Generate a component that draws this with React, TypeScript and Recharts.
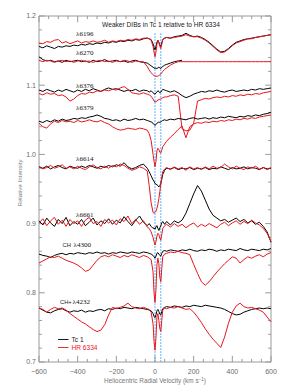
import React from 'react';
import { LineChart, Line, XAxis, YAxis, ReferenceLine, ReferenceArea } from 'recharts';

// velocity grid (km/s), finer around the interstellar components
const velocity = [
  -600, -580, -560, -540, -520, -500, -480, -460, -440, -420,
  -400, -380, -360, -340, -320, -300, -280, -260, -240, -220,
  -200, -180, -160, -140, -120, -100, -80, -60, -40,
  -30, -20, -10, -5, 0, 5, 10, 15, 20, 25, 30, 35, 40, 50,
  60, 80, 100, 120, 140, 160, 180, 200, 220, 240,
  260, 280, 300, 320, 340, 360, 380, 400, 420, 440,
  460, 480, 500, 520, 540, 560, 580, 600,
];

const tc6196 = [
  1.156, 1.154, 1.157, 1.155, 1.153, 1.156, 1.155, 1.157, 1.156, 1.158,
  1.157, 1.159, 1.158, 1.160, 1.159, 1.161, 1.160, 1.162, 1.161, 1.163,
  1.162, 1.164, 1.163, 1.165, 1.164, 1.166, 1.165, 1.167, 1.168,
  1.167, 1.166, 1.160, 1.155, 1.151, 1.156, 1.162, 1.165, 1.162, 1.158, 1.156, 1.161, 1.166, 1.168,
  1.169, 1.168, 1.170, 1.171, 1.172, 1.175, 1.172, 1.170, 1.171, 1.169,
  1.166, 1.162, 1.157, 1.152, 1.148, 1.149, 1.153, 1.158, 1.162, 1.164,
  1.166, 1.167, 1.168, 1.169, 1.170, 1.171, 1.172, 1.173,
];
const hr6196 = [
  1.161, 1.160, 1.163, 1.162, 1.165, 1.166, 1.161, 1.163, 1.160, 1.162,
  1.164, 1.161, 1.163, 1.162, 1.164, 1.162, 1.163, 1.165, 1.162, 1.164,
  1.163, 1.165, 1.164, 1.166, 1.165, 1.167, 1.166, 1.168, 1.168,
  1.167, 1.165, 1.156, 1.148, 1.141, 1.148, 1.159, 1.165, 1.162, 1.156, 1.153, 1.159, 1.166, 1.168,
  1.169, 1.168, 1.169, 1.170, 1.171, 1.173, 1.171, 1.170, 1.170, 1.168,
  1.165, 1.161, 1.156, 1.151, 1.147, 1.148, 1.152, 1.157, 1.161, 1.163,
  1.165, 1.167, 1.167, 1.169, 1.170, 1.171, 1.172, 1.173,
];

const tc6270 = [
  1.141, 1.137, 1.135, 1.136, 1.134, 1.135, 1.133, 1.136, 1.134, 1.135,
  1.136, 1.134, 1.135, 1.133, 1.136, 1.134, 1.135, 1.137, 1.134, 1.135,
  1.136, 1.134, 1.135, 1.133, 1.135, 1.136, 1.134, 1.133, 1.132,
  1.130, 1.128, 1.126, 1.125, 1.124, 1.125, 1.124, 1.125, 1.126, 1.125, 1.124, 1.126, 1.127, 1.129,
  1.130, 1.132, 1.134, 1.135, 1.136, null, null, null, null, null,
  null, null, null, null, null, null, null, null, null, null,
  null, null, null, null, null, null, null, null,
];
const hr6270 = [
  1.136, 1.134, 1.136, 1.135, 1.133, 1.135, 1.136, 1.134, 1.135, 1.133,
  1.135, 1.136, 1.134, 1.135, 1.133, 1.135, 1.136, 1.134, 1.135, 1.133,
  1.135, 1.134, 1.136, 1.135, 1.133, 1.135, 1.134, 1.134, 1.127,
  1.122, 1.118, 1.115, 1.114, 1.113, 1.113, 1.113, 1.113, 1.114, 1.115, 1.116, 1.118, 1.120, 1.123,
  1.125, 1.129, 1.132, 1.134, 1.134, 1.134, 1.134, 1.134, 1.134, 1.134,
  1.134, 1.134, 1.134, 1.134, 1.134, 1.134, 1.134, 1.134, 1.134, 1.134,
  1.134, 1.134, 1.134, 1.134, 1.134, 1.134, 1.134, 1.134,
];

const tc6376 = [
  1.093, 1.091, 1.094, 1.092, 1.090, 1.093, 1.091, 1.094, 1.092, 1.090,
  1.093, 1.091, 1.094, 1.092, 1.095, 1.093, 1.091, 1.094, 1.096, 1.094,
  1.095, 1.093, 1.091, 1.093, 1.092, 1.094, 1.091, 1.093, 1.092,
  1.090, 1.092, 1.089, 1.088, 1.087, 1.089, 1.090, 1.092, 1.091, 1.089, 1.090, 1.092, 1.094, 1.093,
  1.092, 1.090, 1.092, 1.089, 1.085, 1.082, 1.084, 1.087, 1.089, 1.091,
  1.090, 1.092, 1.091, 1.093, 1.091, 1.090, 1.092, 1.093, 1.091, 1.092,
  1.093, 1.092, 1.094, 1.093, 1.095, 1.094, 1.095, 1.096,
];
const hr6376 = [
  1.088, 1.086, 1.089, 1.087, 1.088, 1.085, 1.086, 1.083, 1.077, 1.080,
  1.085, 1.088, 1.087, 1.090, 1.089, 1.092, 1.091, 1.093, 1.092, 1.094,
  1.093, 1.096, 1.098, 1.094, 1.089, 1.088, 1.087, 1.089, 1.087,
  1.086, 1.084, 1.080, 1.077, 1.076, 1.076, 1.077, 1.079, 1.079, 1.080, 1.080, 1.081, 1.082, 1.083,
  1.083, 1.085, 1.086, 1.084, 1.037, 1.034, 1.035, 1.045, 1.077, 1.079,
  1.081, 1.080, 1.082, 1.083, 1.082, 1.084, 1.083, 1.085, 1.084, 1.086,
  1.085, 1.087, 1.086, 1.088, 1.087, 1.089, 1.090, 1.091,
];

const tc6379 = [
  1.048, 1.046, 1.049, 1.047, 1.050, 1.048, 1.051, 1.049, 1.050, 1.052,
  1.051, 1.053, 1.052, 1.054, 1.055, 1.057, 1.055, 1.052, 1.051, 1.049,
  1.050, 1.048, 1.051, 1.049, 1.050, 1.052, 1.050, 1.051, 1.049,
  1.048, 1.047, 1.045, 1.043, 1.042, 1.043, 1.045, 1.046, 1.047, 1.046, 1.047, 1.048, 1.049, 1.050,
  1.049, 1.051, 1.050, 1.052, 1.051, 1.050, 1.052, 1.053, 1.051, 1.052,
  1.053, 1.051, 1.053, 1.052, 1.054, 1.053, 1.055, 1.054, 1.053, 1.055,
  1.054, 1.056, 1.055, 1.057, 1.056, 1.058, 1.059, 1.061,
];
const hr6379 = [
  1.045, 1.040, 1.038, 1.044, 1.048, 1.046, 1.049, 1.047, 1.048, 1.046,
  1.049, 1.047, 1.048, 1.050, 1.048, 1.047, 1.049, 1.046, 1.044, 1.040,
  1.037, 1.035, 1.036, 1.038, 1.037, 1.036, 1.038, 1.037, 1.035,
  1.030, 1.020, 1.000, 0.990, 0.982, 0.990, 1.005, 1.009, 1.007, 1.003, 1.002, 1.006, 1.011, 1.015,
  1.019, 1.025, 1.030, 1.036, 1.041, 1.024, 1.040, 1.044, 1.046, 1.045,
  1.047, 1.046, 1.048, 1.047, 1.049, 1.048, 1.050, 1.049, 1.051, 1.050,
  1.052, 1.051, 1.053, 1.052, 1.054, 1.055, 1.056, 1.057,
];

const tc6614 = [
  0.982, 0.980, 0.983, 0.979, 0.982, 0.984, 0.981, 0.979, 0.983, 0.981,
  0.980, 0.983, 0.981, 0.984, 0.982, 0.980, 0.983, 0.981, 0.984, 0.982,
  0.985, 0.983, 0.988, 0.982, 0.979, 0.981, 0.984, 0.986, 0.980,
  0.975, 0.969, 0.963, 0.961, 0.958, 0.957, 0.956, 0.955, 0.953, 0.955, 0.958, 0.964, 0.971, 0.977,
  0.980, 0.979, 0.981, 0.978, 0.980, 0.979, 0.981, 0.978, 0.980, 0.979,
  0.981, 0.978, 0.980, 0.979, 0.982, 0.980, 0.978, 0.981, 0.979, 0.980,
  0.982, 0.979, 0.981, 0.980, 0.978, 0.981, 0.979, 0.980,
];
const hr6614 = [
  0.983, 0.979, 0.981, 0.984, 0.980, 0.982, 0.985, 0.980, 0.982, 0.979,
  0.983, 0.980, 0.978, 0.982, 0.985, 0.981, 0.979, 0.983, 0.980, 0.984,
  0.982, 0.986, 0.984, 0.980, 0.977, 0.979, 0.982, 0.980, 0.976,
  0.955, 0.930, 0.916, 0.915, 0.916, 0.918, 0.922, 0.928, 0.936, 0.946, 0.957, 0.967, 0.975, 0.979,
  0.981, 0.978, 0.982, 0.979, 0.981, 0.977, 0.982, 0.979, 0.981, 0.978,
  0.982, 0.979, 0.983, 0.980, 0.981, 0.986, 0.982, 0.979, 0.983, 0.980,
  0.978, 0.982, 0.980, 0.983, 0.979, 0.981, 0.978, 0.981,
];

const tc6661 = [
  0.904, 0.898, 0.908, 0.901, 0.896, 0.906, 0.900, 0.909, 0.897, 0.903,
  0.899, 0.906, 0.897, 0.902, 0.908, 0.898, 0.904, 0.900, 0.907, 0.899,
  0.905, 0.901, 0.910, 0.903, 0.897, 0.905, 0.911, 0.902, 0.897,
  0.900, 0.896, 0.893, 0.894, 0.892, 0.895, 0.897, 0.893, 0.890, 0.894, 0.897, 0.901, 0.903, 0.899,
  0.903, 0.898, 0.904, 0.901, 0.905, 0.915, 0.929, 0.943, 0.955, 0.947,
  0.934, 0.921, 0.912, 0.908, 0.904, 0.906, 0.902, 0.905, 0.908, 0.903,
  0.906, 0.901, 0.904, 0.899, 0.902, 0.896, 0.888, 0.873,
];
const hr6661 = [
  0.901, 0.907, 0.897, 0.904, 0.909, 0.899, 0.905, 0.896, 0.906, 0.900,
  0.904, 0.896, 0.905, 0.909, 0.900, 0.903, 0.896, 0.906, 0.901, 0.905,
  0.898, 0.907, 0.903, 0.911, 0.900, 0.906, 0.899, 0.904, 0.895,
  0.893, 0.888, 0.880, 0.874, 0.869, 0.874, 0.882, 0.886, 0.884, 0.879, 0.876, 0.884, 0.893, 0.897,
  0.899, 0.895, 0.900, 0.896, 0.899, 0.894, 0.898, 0.901, 0.895, 0.899,
  0.896, 0.900, 0.897, 0.894, 0.899, 0.902, 0.897, 0.901, 0.904, 0.899,
  0.903, 0.900, 0.905, 0.901, 0.898, 0.893, 0.886, 0.874,
];

const tcCH = [
  0.856, 0.854, 0.853, 0.851, 0.854, 0.856, 0.857, 0.855, 0.857, 0.856,
  0.858, 0.857, 0.856, 0.858, 0.857, 0.859, 0.857, 0.858, 0.856, 0.858,
  0.857, 0.859, 0.858, 0.857, 0.859, 0.858, 0.857, 0.859, 0.858,
  0.857, 0.856, 0.854, 0.852, 0.850, 0.853, 0.857, 0.858, 0.856, 0.854, 0.853, 0.857, 0.860, 0.861,
  0.860, 0.862, 0.861, 0.860, 0.862, 0.861, 0.863, 0.861, 0.860, 0.862,
  0.861, 0.863, 0.862, 0.860, 0.862, 0.861, 0.863, 0.862, 0.861, 0.864,
  0.862, 0.861, 0.863, 0.862, 0.861, 0.863, 0.862, 0.864,
];
const hrCH = [
  0.843, 0.846, 0.849, 0.852, 0.851, 0.853, 0.850, 0.847, 0.845, 0.843,
  0.840, 0.836, 0.831, 0.833, 0.840, 0.847, 0.852, 0.854, 0.852, 0.855,
  0.853, 0.851, 0.854, 0.852, 0.855, 0.853, 0.851, 0.854, 0.852,
  0.850, 0.848, 0.830, 0.800, 0.786, 0.805, 0.840, 0.850, 0.842, 0.822, 0.816, 0.835, 0.852, 0.856,
  0.857, 0.859, 0.858, 0.860, 0.858, 0.857, 0.855, 0.841, 0.828, 0.816,
  0.811, 0.816, 0.823, 0.830, 0.836, 0.842, 0.847, 0.852, 0.850, 0.843,
  0.848, 0.852, 0.850, 0.853, 0.855, 0.852, 0.856, 0.858,
];

const tcCHp = [
  0.778, 0.775, 0.772, 0.771, 0.774, 0.776, 0.777, 0.774, 0.772, 0.774,
  0.773, 0.775, 0.772, 0.774, 0.773, 0.775, 0.776, 0.774, 0.777, 0.776,
  0.778, 0.777, 0.779, 0.778, 0.777, 0.779, 0.778, 0.777, 0.776,
  0.775, 0.774, 0.770, 0.766, 0.764, 0.768, 0.774, 0.776, 0.773, 0.769, 0.768, 0.773, 0.777, 0.779,
  0.780, 0.779, 0.781, 0.780, 0.779, 0.781, 0.780, 0.782, 0.781, 0.780,
  0.782, 0.781, 0.780, 0.779, 0.778, 0.776, 0.773, 0.770, 0.768, 0.769,
  0.772, 0.774, 0.776, 0.777, 0.778, 0.777, 0.778, 0.777,
];
const hrCHp = [
  0.778, 0.776, 0.772, 0.776, 0.779, 0.777, 0.778, 0.775, 0.770, 0.766,
  0.762, 0.758, 0.755, 0.751, 0.747, 0.744, 0.746, 0.754, 0.768, 0.779,
  0.777, 0.779, 0.781, 0.785, 0.780, 0.778, 0.777, 0.779, 0.777,
  0.776, 0.772, 0.755, 0.730, 0.717, 0.735, 0.765, 0.770, 0.760, 0.748, 0.744, 0.760, 0.775, 0.778,
  0.777, 0.779, 0.778, 0.780, 0.778, 0.776, 0.777, 0.772, 0.765, 0.757,
  0.748, 0.740, 0.733, 0.727, 0.721, 0.736, 0.756, 0.772, 0.781, 0.785,
  0.780, 0.778, 0.779, 0.777, 0.775, 0.772, 0.765, 0.758,
];

const xTicks = [-600, -400, -200, 0, 200, 400, 600];
const xMinor = [-550, -500, -450, -350, -300, -250, -150, -100, -50, 50, 100, 150, 250, 300, 350, 450, 500, 550];
const yTicks = [0.7, 0.8, 0.9, 1.0, 1.1, 1.2];
const yMinor = [
  0.72, 0.74, 0.76, 0.78, 0.82, 0.84, 0.86, 0.88, 0.92, 0.94, 0.96, 0.98,
  1.02, 1.04, 1.06, 1.08, 1.12, 1.14, 1.16, 1.18,
];
const componentVel = [0, 30];

const pairs = [
  ['tc6196', 'hr6196'],
  ['tc6270', 'hr6270'],
  ['tc6376', 'hr6376'],
  ['tc6379', 'hr6379'],
  ['tc6614', 'hr6614'],
  ['tc6661', 'hr6661'],
  ['tcCH', 'hrCH'],
  ['tcCHp', 'hrCHp'],
];

const rows = velocity.map((v, i) => ({
  v,
  tc6196: tc6196[i], hr6196: hr6196[i],
  tc6270: tc6270[i], hr6270: hr6270[i],
  tc6376: tc6376[i], hr6376: hr6376[i],
  tc6379: tc6379[i], hr6379: hr6379[i],
  tc6614: tc6614[i], hr6614: hr6614[i],
  tc6661: tc6661[i], hr6661: hr6661[i],
  tcCH: tcCH[i], hrCH: hrCH[i],
  tcCHp: tcCHp[i], hrCHp: hrCHp[i],
}));

const RED = '#e8161b';
const AXIS = '#9a9a9a';
const SANS = '"Liberation Sans", Arial, Helvetica, sans-serif';
const SERIF = '"Liberation Serif", "Times New Roman", serif';

const fmtX = (v: number) => (v < 0 ? `\u2212${-v}` : `${v}`);

export default function App() {
  return (
    <div style={{ position: 'absolute', left: 0, top: 0, width: 283, height: 390, background: '#fff' }}>
      <LineChart width={283} height={390} data={rows} margin={{ top: 16, right: 12, bottom: 0, left: 0 }}>
        <XAxis
          dataKey="v"
          type="number"
          domain={[-600, 600]}
          ticks={xTicks}
          tickFormatter={fmtX}
          axisLine={false}
          tickLine={false}
          tickSize={0}
          tickMargin={7}
          height={28}
          interval={0}
          tick={{ fontSize: 7, fill: '#6b6b6b', fontFamily: SANS }}
        />
        <YAxis
          type="number"
          domain={[0.7, 1.2]}
          ticks={yTicks}
          tickFormatter={(v: number) => v.toFixed(1)}
          axisLine={false}
          tickLine={false}
          tickSize={0}
          tickMargin={3}
          width={39}
          interval={0}
          allowDataOverflow
          tick={{ fontSize: 7, fill: '#6b6b6b', fontFamily: SANS }}
        />
        <ReferenceArea x1={-600} x2={600} y1={0.7} y2={1.2} fill="none" fillOpacity={0} stroke={AXIS} strokeWidth={1} />
        {xTicks.map((t) => (
          <ReferenceLine key={'xb' + t} segment={[{ x: t, y: 0.7 }, { x: t, y: 0.709 }]} stroke={AXIS} />
        ))}
        {xTicks.map((t) => (
          <ReferenceLine key={'xt' + t} segment={[{ x: t, y: 1.2 }, { x: t, y: 1.191 }]} stroke={AXIS} />
        ))}
        {xMinor.map((t) => (
          <ReferenceLine key={'xbm' + t} segment={[{ x: t, y: 0.7 }, { x: t, y: 0.7045 }]} stroke={AXIS} />
        ))}
        {xMinor.map((t) => (
          <ReferenceLine key={'xtm' + t} segment={[{ x: t, y: 1.2 }, { x: t, y: 1.1955 }]} stroke={AXIS} />
        ))}
        {yTicks.map((t) => (
          <ReferenceLine key={'yl' + t} segment={[{ x: -600, y: t }, { x: -570, y: t }]} stroke={AXIS} />
        ))}
        {yTicks.map((t) => (
          <ReferenceLine key={'yr' + t} segment={[{ x: 600, y: t }, { x: 570, y: t }]} stroke={AXIS} />
        ))}
        {yMinor.map((t) => (
          <ReferenceLine key={'ylm' + t} segment={[{ x: -600, y: t }, { x: -585, y: t }]} stroke={AXIS} />
        ))}
        {yMinor.map((t) => (
          <ReferenceLine key={'yrm' + t} segment={[{ x: 600, y: t }, { x: 585, y: t }]} stroke={AXIS} />
        ))}
        {componentVel.map((c) => (
          <ReferenceLine
            key={'c' + c}
            segment={[{ x: c, y: 1.175 }, { x: c, y: 0.7 }]}
            stroke="#2e9bff"
            strokeWidth={1}
            strokeDasharray="1.5 1.5"
          />
        ))}
        {pairs.map(([tc, hr]) => [
          <Line key={tc} dataKey={tc} stroke="#000" strokeWidth={1} dot={false} isAnimationActive={false} connectNulls={false} />,
          <Line key={hr} dataKey={hr} stroke={RED} strokeWidth={1} dot={false} isAnimationActive={false} connectNulls={false} />,
        ])}
      </LineChart>
      <svg width={283} height={390} style={{ position: 'absolute', left: 0, top: 0, pointerEvents: 'none' }}>
        <text x={161} y={26.5} textAnchor="middle" fontSize={6.6} fill="#222" fontFamily={SANS}>
          Weaker DIBs in Tc 1 relative to HR 6334
        </text>
        <g fontFamily={SERIF} fontSize={7} fill="#111">
          <text x={76} y={36}>λ6196</text>
          <text x={76} y={54.5}>λ6270</text>
          <text x={76} y={87.5}>λ6376</text>
          <text x={76} y={109.5}>λ6379</text>
          <text x={76} y={160.5}>λ6614</text>
          <text x={76} y={216.5}>λ6661</text>
          <text x={73.5} y={247}>λ4300</text>
          <text x={72.5} y={304}>λ4232</text>
        </g>
        <text x={62.5} y={247} fontSize={5.8} fill="#222" fontFamily={SANS}>CH</text>
        <text x={60} y={304} fontSize={5.8} fill="#222" fontFamily={SANS}>CH+</text>
        <line x1={58} x2={68.5} y1={339.5} y2={339.5} stroke="#000" strokeWidth={0.9} />
        <text x={71.5} y={341.5} fontSize={6.6} fill="#222" fontFamily={SANS}>Tc 1</text>
        <line x1={58} x2={68.5} y1={347.5} y2={347.5} stroke={RED} strokeWidth={0.9} />
        <text x={71.5} y={349.5} fontSize={6.6} fill={RED} fontFamily={SANS}>HR 6334</text>
        <text
          transform="translate(21.5,183) rotate(-90)"
          textAnchor="middle"
          fontSize={6.2}
          fill="#777"
          fontFamily={SANS}
        >
          Relative Intensity
        </text>
        <text x={155} y={383} textAnchor="middle" fontSize={6.4} fill="#777" fontFamily={SANS}>
          Heliocentric Radial Velocity (km s<tspan dy={-2.5} fontSize={4.5}>−1</tspan><tspan dy={2.5}>)</tspan>
        </text>
      </svg>
    </div>
  );
}
